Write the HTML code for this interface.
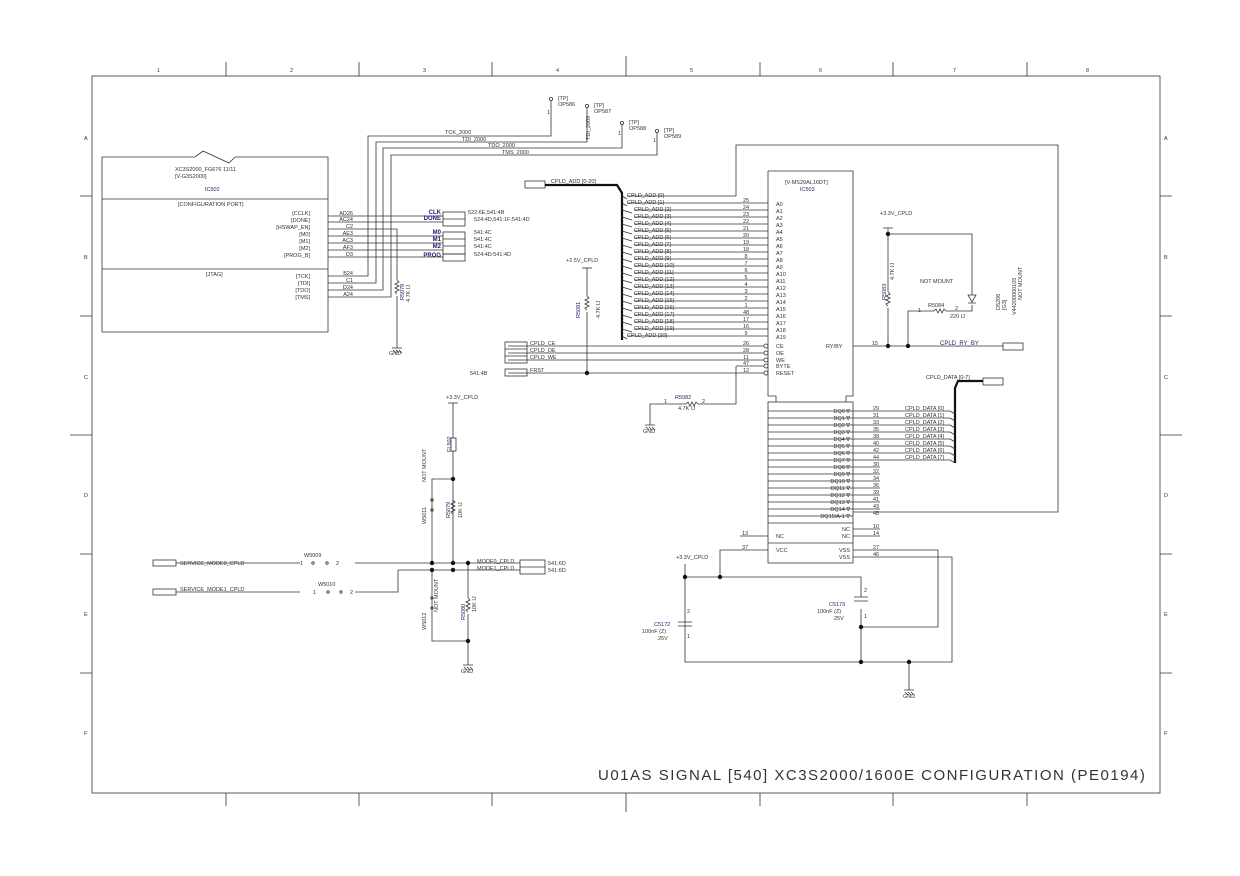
<!DOCTYPE html>
<html><head><meta charset="utf-8"><style>
html,body{margin:0;padding:0;background:#fff;}
svg{display:block;}
text{font-family:"Liberation Sans",sans-serif;font-size:5.5px;fill:#333;}
.b{fill:#1c1c70;}
.bb{fill:#1c1c70;font-weight:bold;font-size:6px;}
.g{font-size:7px;fill:#444;}
</style></head><body>
<svg width="1240" height="876" viewBox="0 0 1240 876" xmlns="http://www.w3.org/2000/svg">
<g stroke="#333" stroke-width="0.8" fill="none">
<rect x="92" y="76" width="1068" height="717"/>
<path d="M226 62V76M359 62V76M492 62V76M626 56V76M760 62V76M893 62V76M1027 62V76"/>
<path d="M226 793V806M359 793V806M492 793V806M626 793V812M760 793V806M893 793V806M1027 793V806"/>
<path d="M80 196H92M80 316H92M70 435H92M80 554H92M80 673H92"/>
<path d="M1160 196H1172M1160 316H1172M1160 435H1182M1160 554H1172M1160 673H1172"/>
<path d="M102 157H195L203 151L229 163L235 157H328V332H102Z"/>
<path d="M102 199H328M102 269H328"/>
<path d="M328 216H443M328 222H443M328 229H397V240M328 236H443M328 243H443M328 250H443M328 257H443"/>
<rect x="443" y="212" width="22" height="14"/><path d="M443 219H465"/>
<rect x="443" y="232" width="22" height="22"/><path d="M443 239H465M443 246H465"/>
<rect x="443" y="254" width="22" height="7"/>
<path d="M397 240V280M397 296V348" />
<path d="M397 280l2 2l-4 2l4 2l-4 2l4 2l-4 2l2 2"/>
<path d="M392 348H402M393 350L396 353M396 350L399 353M399 350L402 353"/>
<path d="M328 276H368V136H551V101M328 283H376V142H587V108M328 290H383V148H622V125M328 297H391V155H657V133"/>
<circle cx="551" cy="99" r="1.6"/><circle cx="587" cy="106" r="1.6"/><circle cx="622" cy="123" r="1.6"/><circle cx="657" cy="131" r="1.6"/>
<path d="M736 196V145H1058V512H853"/>
<rect x="525" y="181" width="20" height="7"/>
<path d="M545 185H617L622 193V340" stroke-width="2.2" stroke="#111"/>
<path d="M627 196H736"/>
<path d="M627 203H768M634 210H768M634 217H768M634 224H768M634 231H768M634 238H768M634 245H768M634 252H768M634 259H768M634 266H768M634 273H768M634 280H768M634 287H768M634 294H768M634 301H768M634 308H768M634 315H768M634 322H768M634 329H768M627 336H768"/>
<path d="M622 196l5 3M622 203l5 3M622 210l10 3M622 217l10 3M622 224l10 3M622 231l10 3M622 238l10 3M622 245l10 3M622 252l10 3M622 259l10 3M622 266l10 3M622 273l10 3M622 280l10 3M622 287l10 3M622 294l10 3M622 301l10 3M622 308l10 3M622 315l10 3M622 322l10 3M622 329l10 3M622 336l5 3"/>
<path d="M768 171H853V396H846V402M776 402V396H768V171"/>
<rect x="768" y="402" width="85" height="161"/>
<path d="M768 411H853M768 418H853M768 425H853M768 432H853M768 439H853M768 446H853M768 453H853M768 460H853M768 467H853M768 474H853M768 481H853M768 488H853M768 495H853M768 502H853M768 509H853M768 516H853M768 523H853M768 543H853"/>
<path d="M508 346H764M508 353H764M508 360H764M736 366H764M508 373H764"/>
<circle cx="766" cy="346" r="2"/><circle cx="766" cy="353" r="2"/><circle cx="766" cy="360" r="2"/><circle cx="766" cy="366" r="2"/><circle cx="766" cy="373" r="2"/>
<rect x="505" y="342" width="22" height="21"/><path d="M505 349H527M505 356H527"/>
<rect x="505" y="369" width="22" height="7"/>
<path d="M587 268V296M587 312V373"/>
<path d="M587 296l2 2l-4 2l4 2l-4 2l4 2l-4 2l2 2"/><path d="M582 268H592"/>
<path d="M736 366V404H698M686 404H650V425M686 404l2-2l2 4l2-4l2 4l2-4l2 2"/>
<path d="M645 425H655M646 427L649 430M649 427L652 430M652 427L655 430"/>
<path d="M853 346H1003M888 228V292M888 308V346M888 234H972V295M972 305V311H946M934 311H908V346"/>
<path d="M888 292l2 2l-4 2l4 2l-4 2l4 2l-4 2l2 2M934 311l2-2l2 4l2-4l2 4l2-4l2 2"/>
<path d="M883 228H893M968 295H976L972 302ZM968 303H976"/>
<rect x="1003" y="343" width="20" height="7"/>
<rect x="983" y="378" width="20" height="7"/>
<path d="M983 381H958L955 388V463" stroke-width="2.2" stroke="#111"/>
<path d="M853 411H950M853 418H950M853 425H950M853 432H950M853 439H950M853 446H950M853 453H950M853 460H950"/>
<path d="M950 411l5 3M950 418l5 3M950 425l5 3M950 432l5 3M950 439l5 3M950 446l5 3M950 453l5 3M950 460l5 3"/>
<path d="M853 467H880M853 474H880M853 481H880M853 488H880M853 495H880M853 502H880M853 509H880"/>
<path d="M740 536H768M853 529H880M853 536H880"/>
<path d="M720 577V550H768M853 550H938V627H861M853 557H952V662H685V577H861V597M861 609V662M909 662V690"/>
<path d="M854 597H868M854 601H868M678 622H692M678 626H692M685 564V577"/>
<path d="M904 690H914M905 692L908 695M908 692L911 695M911 692L914 695"/>
<path d="M453 403V438M453 451V563M453 479H432V563"/>
<rect x="451" y="438" width="5" height="13"/>
<path d="M453 500l2 2l-4 2l4 2l-4 2l4 2l-4 2l2 2"/>
<path d="M448 403H458"/>
<path d="M176 563H300M355 563H520M398 570H520M398 570V592H355M300 592H176M468 563V598M468 614V641H432V570M468 641V665"/>
<path d="M468 598l2 2l-4 2l4 2l-4 2l4 2l-4 2l2 2"/>
<path d="M463 665H473M464 667L467 670M467 667L470 670M470 667L473 670"/>
<rect x="153" y="560" width="23" height="6"/><rect x="153" y="589" width="23" height="6"/>
<rect x="520" y="560" width="25" height="14"/><path d="M520 567H545"/>
<circle cx="313" cy="563" r="1.2"/><circle cx="327" cy="563" r="1.2"/><circle cx="328" cy="592" r="1.2"/><circle cx="341" cy="592" r="1.2"/>
<circle cx="432" cy="500" r="1.2"/><circle cx="432" cy="510" r="1.2"/><circle cx="432" cy="598" r="1.2"/><circle cx="432" cy="608" r="1.2"/>
</g>
<g fill="#111">
<circle cx="587" cy="373" r="2.2"/><circle cx="888" cy="346" r="2.2"/><circle cx="908" cy="346" r="2.2"/><circle cx="888" cy="234" r="2.2"/>
<circle cx="685" cy="577" r="2.2"/><circle cx="720" cy="577" r="2.2"/><circle cx="861" cy="627" r="2.2"/><circle cx="861" cy="662" r="2.2"/><circle cx="909" cy="662" r="2.2"/>
<circle cx="453" cy="479" r="2.2"/><circle cx="432" cy="563" r="2.2"/><circle cx="453" cy="563" r="2.2"/><circle cx="468" cy="563" r="2.2"/><circle cx="432" cy="570" r="2.2"/><circle cx="453" cy="570" r="2.2"/><circle cx="468" cy="641" r="2.2"/>
</g>
<g class="g">
<text x="157" y="72">1</text><text x="290" y="72">2</text><text x="423" y="72">3</text><text x="556" y="72">4</text><text x="690" y="72">5</text><text x="819" y="72">6</text><text x="953" y="72">7</text><text x="1086" y="72">8</text>
<text x="84" y="140">A</text><text x="84" y="259">B</text><text x="84" y="379">C</text><text x="84" y="497">D</text><text x="84" y="616">E</text><text x="84" y="735">F</text>
<text x="1164" y="140">A</text><text x="1164" y="259">B</text><text x="1164" y="379">C</text><text x="1164" y="497">D</text><text x="1164" y="616">E</text><text x="1164" y="735">F</text>
</g>
<text x="598" y="780" style="font-size:15px;letter-spacing:1.5px;fill:#333">U01AS SIGNAL [540] XC3S2000/1600E CONFIGURATION (PE0194)</text>
<text x="175" y="171">XC3S2000_FG676 11/11</text><text x="175" y="178">[V-G3S2000]</text>
<text x="205" y="191" class="b">IC502</text>
<text x="178" y="206">[CONFIGURATION PORT]</text><text x="206" y="276">[JTAG]</text>
<g text-anchor="end">
<text x="310" y="215">[CCLK]</text><text x="310" y="222">[DONE]</text><text x="310" y="229">[HSWAP_EN]</text><text x="310" y="236">[M0]</text><text x="310" y="243">[M1]</text><text x="310" y="250">[M2]</text><text x="310" y="257">[PROG_B]</text>
<text x="310" y="278">[TCK]</text><text x="310" y="285">[TDI]</text><text x="310" y="292">[TDO]</text><text x="310" y="299">[TMS]</text>
<text x="353" y="215">AD26</text><text x="353" y="221">AC24</text><text x="353" y="228">C2</text><text x="353" y="235">AE3</text><text x="353" y="242">AC3</text><text x="353" y="249">AF3</text><text x="353" y="256">D3</text>
<text x="353" y="275">B24</text><text x="353" y="282">C1</text><text x="353" y="289">D24</text><text x="353" y="296">A24</text>
<text x="441" y="214" class="bb">CLK</text><text x="441" y="220" class="bb">DONE</text><text x="441" y="234" class="bb">M0</text><text x="441" y="241" class="bb">M1</text><text x="441" y="248" class="bb">M2</text><text x="441" y="257" class="bb">PROG</text>
</g>
<text x="468" y="214">522:6E,541:4B</text><text x="474" y="221">524:4D,541:1F:541:4D</text>
<text x="474" y="234">541:4C</text><text x="474" y="241">541:4C</text><text x="474" y="248">541:4C</text><text x="474" y="256">524:4D:541:4D</text>
<text x="445" y="134">TCK_2000</text><text x="462" y="141">TDI_2000</text><text x="488" y="147">TDO_2000</text><text x="502" y="154">TMS_2000</text>
<text x="558" y="100">[TP]</text><text x="558" y="106">OP586</text><text x="594" y="107">[TP]</text><text x="594" y="113">OP587</text>
<text x="629" y="124">[TP]</text><text x="629" y="130">OP588</text><text x="664" y="132">[TP]</text><text x="664" y="138">OP589</text>
<text x="547" y="114">1</text><text x="618" y="135">1</text><text x="653" y="142">1</text>
<text transform="translate(590,140) rotate(-90)">TDI_2009</text>
<text transform="translate(404,300) rotate(-90)" class="b">R5078</text><text transform="translate(410,302) rotate(-90)">4.7K IJ</text>
<text x="389" y="355">GND</text>
<text x="551" y="183">CPLD_ADD [0-20]</text>
<g class="b">
<text x="627" y="197">CPLD_ADD [0]</text><text x="627" y="204">CPLD_ADD [1]</text><text x="634" y="211">CPLD_ADD [2]</text><text x="634" y="218">CPLD_ADD [3]</text><text x="634" y="225">CPLD_ADD [4]</text><text x="634" y="232">CPLD_ADD [5]</text><text x="634" y="239">CPLD_ADD [6]</text><text x="634" y="246">CPLD_ADD [7]</text><text x="634" y="253">CPLD_ADD [8]</text><text x="634" y="260">CPLD_ADD [9]</text><text x="634" y="267">CPLD_ADD [10]</text><text x="634" y="274">CPLD_ADD [11]</text><text x="634" y="281">CPLD_ADD [12]</text><text x="634" y="288">CPLD_ADD [13]</text><text x="634" y="295">CPLD_ADD [14]</text><text x="634" y="302">CPLD_ADD [15]</text><text x="634" y="309">CPLD_ADD [16]</text><text x="634" y="316">CPLD_ADD [17]</text><text x="634" y="323">CPLD_ADD [18]</text><text x="634" y="330">CPLD_ADD [19]</text><text x="627" y="337">CPLD_ADD [20]</text>
</g>
<g text-anchor="middle">
<text x="746" y="202">25</text><text x="746" y="209">24</text><text x="746" y="216">23</text><text x="746" y="223">22</text><text x="746" y="230">21</text><text x="746" y="237">20</text><text x="746" y="244">19</text><text x="746" y="251">18</text><text x="746" y="258">8</text><text x="746" y="265">7</text><text x="746" y="272">6</text><text x="746" y="279">5</text><text x="746" y="286">4</text><text x="746" y="293">3</text><text x="746" y="300">2</text><text x="746" y="307">1</text><text x="746" y="314">48</text><text x="746" y="321">17</text><text x="746" y="328">16</text><text x="746" y="335">9</text>
<text x="746" y="345">26</text><text x="746" y="352">28</text><text x="746" y="359">11</text><text x="746" y="365">47</text><text x="746" y="372">12</text>
</g>
<g>
<text x="776" y="206">A0</text><text x="776" y="213">A1</text><text x="776" y="220">A2</text><text x="776" y="227">A3</text><text x="776" y="234">A4</text><text x="776" y="241">A5</text><text x="776" y="248">A6</text><text x="776" y="255">A7</text><text x="776" y="262">A8</text><text x="776" y="269">A9</text><text x="776" y="276">A10</text><text x="776" y="283">A11</text><text x="776" y="290">A12</text><text x="776" y="297">A13</text><text x="776" y="304">A14</text><text x="776" y="311">A15</text><text x="776" y="318">A16</text><text x="776" y="325">A17</text><text x="776" y="332">A18</text><text x="776" y="339">A19</text>
<text x="776" y="348">CE</text><text x="776" y="355">OE</text><text x="776" y="362">WE</text><text x="776" y="368">BYTE</text><text x="776" y="375">RESET</text>
</g>
<text x="785" y="184">[V-MS29AL16DT]</text><text x="800" y="191" class="b">IC503</text>
<text x="826" y="348">RY/BY</text><text x="872" y="345">15</text>
<g class="b"><text x="530" y="345">CPLD_CE</text><text x="530" y="352">CPLD_OE</text><text x="530" y="359">CPLD_WE</text><text x="530" y="372">FRST</text></g>
<text x="470" y="375">541:4B</text>
<text x="566" y="262">+2.5V_CPLD</text>
<text transform="translate(580,318) rotate(-90)" class="b">R5081</text><text transform="translate(600,318) rotate(-90)">4.7K IJ</text>
<text x="675" y="399" class="b">R5082</text><text x="678" y="410">4.7K IJ</text><text x="664" y="403">1</text><text x="702" y="403">2</text>
<text x="643" y="433">GND</text>
<text x="880" y="215">+3.3V_CPLD</text>
<text transform="translate(886,300) rotate(-90)" class="b">R5083</text><text transform="translate(894,280) rotate(-90)">4.7K IJ</text>
<text x="920" y="283">NOT MOUNT</text>
<text x="928" y="307">R5084</text><text x="950" y="318">220 IJ</text><text x="918" y="312">1</text><text x="955" y="310">2</text>
<text transform="translate(1000,310) rotate(-90)">D5206</text><text transform="translate(1006,310) rotate(-90)">[G3]</text>
<text transform="translate(1016,315) rotate(-90)">V44200000105</text><text transform="translate(1022,300) rotate(-90)">NOT MOUNT</text>
<text x="940" y="345" class="b" style="font-size:6px">CPLD_RY_BY</text>
<text x="926" y="379">CPLD_DATA [0-7]</text>
<g class="b">
<text x="905" y="410">CPLD_DATA [0]</text><text x="905" y="417">CPLD_DATA [1]</text><text x="905" y="424">CPLD_DATA [2]</text><text x="905" y="431">CPLD_DATA [3]</text><text x="905" y="438">CPLD_DATA [4]</text><text x="905" y="445">CPLD_DATA [5]</text><text x="905" y="452">CPLD_DATA [6]</text><text x="905" y="459">CPLD_DATA [7]</text>
</g>
<g text-anchor="end">
<text x="850" y="413">DQ0 ∇</text><text x="850" y="420">DQ1 ∇</text><text x="850" y="427">DQ2 ∇</text><text x="850" y="434">DQ3 ∇</text><text x="850" y="441">DQ4 ∇</text><text x="850" y="448">DQ5 ∇</text><text x="850" y="455">DQ6 ∇</text><text x="850" y="462">DQ7 ∇</text><text x="850" y="469">DQ8 ∇</text><text x="850" y="476">DQ9 ∇</text><text x="850" y="483">DQ10 ∇</text><text x="850" y="490">DQ11 ∇</text><text x="850" y="497">DQ12 ∇</text><text x="850" y="504">DQ13 ∇</text><text x="850" y="511">DQ14 ∇</text><text x="850" y="518">DQ15/A-1 ∇</text>
<text x="850" y="531">NC</text><text x="850" y="538">NC</text><text x="850" y="552">VSS</text><text x="850" y="559">VSS</text>
</g>
<g text-anchor="middle">
<text x="876" y="410">29</text><text x="876" y="417">31</text><text x="876" y="424">33</text><text x="876" y="431">35</text><text x="876" y="438">38</text><text x="876" y="445">40</text><text x="876" y="452">42</text><text x="876" y="459">44</text><text x="876" y="466">30</text><text x="876" y="473">32</text><text x="876" y="480">34</text><text x="876" y="487">36</text><text x="876" y="494">39</text><text x="876" y="501">41</text><text x="876" y="508">43</text><text x="876" y="515">45</text>
<text x="876" y="528">10</text><text x="876" y="535">14</text><text x="876" y="549">27</text><text x="876" y="556">46</text>
<text x="745" y="535">13</text><text x="745" y="549">37</text>
</g>
<text x="776" y="538">NC</text><text x="776" y="552">VCC</text>
<text x="676" y="559">+3.3V_CPLD</text>
<text x="829" y="606" class="b">C5173</text><text x="817" y="613">100nF (Z)</text><text x="834" y="620">25V</text><text x="864" y="592">2</text><text x="864" y="618">1</text>
<text x="654" y="626" class="b">C5172</text><text x="642" y="633">100nF (Z)</text><text x="658" y="640">25V</text><text x="687" y="613">2</text><text x="687" y="638">1</text>
<text x="903" y="698">GND</text>
<text x="446" y="399">+3.3V_CPLD</text>
<text transform="translate(451,452) rotate(-90)" class="b">FL502</text>
<text transform="translate(426,482) rotate(-90)">NOT MOUNT</text>
<text transform="translate(426,524) rotate(-90)">W5011</text>
<text transform="translate(450,518) rotate(-90)" class="b">R5079</text><text transform="translate(462,518) rotate(-90)">10K IJ</text>
<text transform="translate(426,630) rotate(-90)">W5012</text>
<text transform="translate(438,612) rotate(-90)">NOT MOUNT</text>
<text transform="translate(465,620) rotate(-90)" class="b">R5080</text><text transform="translate(476,612) rotate(-90)">10K IJ</text>
<text x="461" y="673">GND</text>
<g class="b">
<text x="180" y="565">SERVICE_MODE0_CPLD</text><text x="180" y="591">SERVICE_MODE1_CPLD</text>
<text x="304" y="557">W5009</text><text x="318" y="586">W5010</text>
<text x="477" y="563">MODE0_CPLD</text><text x="477" y="570">MODE1_CPLD</text>
</g>
<text x="300" y="565">1</text><text x="336" y="565">2</text><text x="313" y="594">1</text><text x="350" y="594">2</text>
<text x="548" y="565">541:6D</text><text x="548" y="572">541:6D</text>
</svg>
</body></html>
